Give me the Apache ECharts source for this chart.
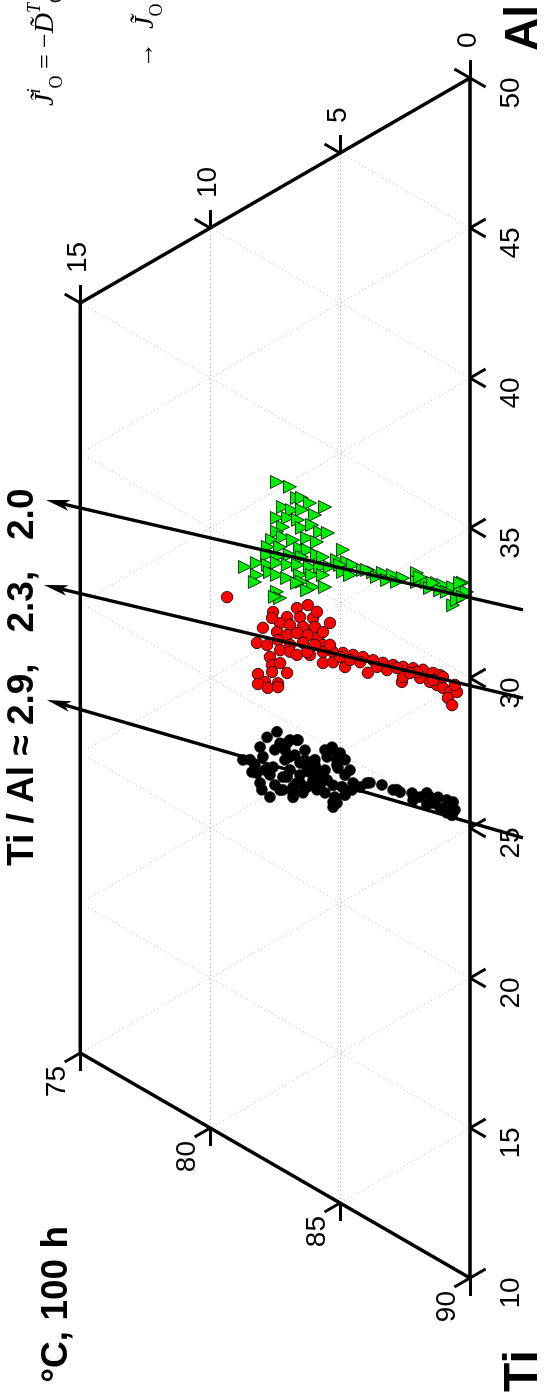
<!DOCTYPE html>
<html><head><meta charset="utf-8">
<script src="https://cdn.jsdelivr.net/npm/echarts@6/dist/echarts.min.js"></script>
<style>html,body{margin:0;padding:0;background:#fff}#c{width:547px;height:1398px}</style>
</head><body><div id="c"></div>
<script>
// ---- data: compositions [Al at%, O at%] (Ti = 100 - Al - O) ----
const blackPts = [[24.49,7.43],[24.60,6.66],[24.31,7.04],[24.96,5.27],[24.71,5.12],[24.62,5.50],[24.46,5.08],[24.36,4.81],[23.79,5.27],[23.91,4.93],[23.23,5.27],[23.43,5.20],[24.00,4.54],[24.25,4.23],[24.58,3.85],[24.74,3.39],[24.79,2.96],[24.85,2.69],[25.05,2.23],[25.07,1.92],[25.26,1.54],[25.41,1.23],[25.12,1.42],[25.54,0.65],[25.31,0.58],[25.23,0.89],[24.94,1.66],[24.83,2.19],[25.08,0.69],[25.09,1.15],[23.91,6.93],[23.90,6.54],[23.85,6.16],[23.94,5.77],[23.18,7.04],[23.17,6.66],[23.23,6.27],[23.33,5.89],[22.76,6.81],[22.67,7.20],[23.85,5.50],[23.58,6.04],[22.90,8.74],[22.67,8.39],[22.46,8.08],[22.27,8.01],[22.18,7.70],[23.66,8.08],[24.12,7.81],[24.17,7.31],[24.47,6.93],[24.62,6.62],[23.39,7.97],[23.24,7.58],[23.10,7.20],[22.96,6.81],[22.62,6.81],[22.96,6.43],[23.48,6.04],[23.99,5.89],[23.89,6.27],[22.61,7.31],[22.73,8.20],[25.04,5.31],[25.00,5.00],[24.54,5.12],[23.27,5.12],[23.06,5.27],[24.25,4.50],[24.52,3.96],[24.87,2.81],[25.34,1.66],[25.49,0.89],[25.27,0.65],[25.06,0.89],[23.85,7.51],[23.71,7.12],[24.42,6.35],[24.29,5.97],[24.14,5.58],[23.50,6.54],[22.92,7.70],[22.96,8.28],[23.38,5.58],[23.69,4.81],[24.04,7.12],[24.06,6.74],[24.09,6.35],[24.12,5.97],[23.47,6.93],[23.23,6.54],[23.55,5.77],[22.68,7.51],[22.99,7.89],[23.04,8.47],[24.81,5.58],[24.87,4.81],[24.62,4.62]];
const redPts = [[28.02,9.35],[28.41,7.58],[29.00,6.66],[29.31,6.24],[28.51,7.04],[28.76,6.54],[28.98,6.04],[28.17,7.31],[28.31,6.93],[28.49,6.43],[28.72,5.97],[29.14,5.39],[27.69,7.97],[27.82,7.43],[27.91,7.04],[28.17,6.66],[28.31,6.24],[28.40,5.85],[28.70,5.66],[27.07,8.20],[27.19,7.81],[27.57,7.39],[27.64,6.93],[27.96,6.43],[28.27,5.66],[27.27,7.31],[27.41,6.93],[27.44,6.66],[27.69,6.16],[28.04,5.66],[28.23,5.27],[28.39,4.89],[28.52,4.50],[28.64,4.12],[28.73,3.73],[28.83,3.35],[28.95,2.96],[29.08,2.58],[29.23,2.19],[29.37,1.81],[29.46,1.42],[29.52,1.15],[26.85,7.70],[26.62,7.62],[26.84,7.31],[26.05,8.16],[26.39,7.62],[26.65,7.04],[25.92,7.89],[25.72,8.16],[26.13,7.39],[25.78,7.78],[26.00,7.39],[27.67,5.66],[27.89,5.27],[27.96,4.81],[28.21,3.93],[28.67,3.19],[28.56,2.62],[28.74,2.58],[29.04,1.92],[29.10,1.54],[29.13,1.27],[29.15,1.04],[29.15,0.77],[29.28,0.50],[28.91,0.85],[28.75,0.69],[29.51,1.04],[29.18,2.04],[28.58,3.58],[28.93,2.81],[28.20,5.00],[28.12,5.97],[27.73,6.27],[28.41,5.39],[28.19,7.62],[29.26,5.89],[29.48,0.58],[29.22,1.42],[29.01,2.31],[28.41,4.23],[28.29,4.62]];
const greenPts = [[32.82,7.43],[32.91,6.93],[32.67,6.66],[32.77,6.47],[32.75,6.16],[32.91,5.58],[32.10,7.20],[32.17,6.85],[32.37,6.47],[32.45,5.97],[31.62,7.43],[31.83,7.01],[31.96,6.62],[31.43,7.20],[31.77,6.47],[32.06,6.08],[31.98,5.77],[32.10,5.47],[31.16,7.43],[30.79,7.62],[31.10,7.20],[31.19,6.81],[31.53,6.27],[31.59,5.89],[30.48,7.78],[30.71,7.31],[31.06,6.54],[31.15,6.24],[31.83,4.89],[30.19,7.81],[30.32,7.43],[30.64,6.93],[30.80,6.47],[31.16,5.89],[31.20,5.66],[31.37,5.12],[31.50,4.73],[29.37,8.66],[29.73,8.20],[29.88,7.78],[30.12,7.43],[30.27,7.01],[30.46,6.62],[30.62,6.16],[30.81,5.77],[31.01,5.39],[31.27,5.00],[31.52,4.50],[31.54,4.12],[31.66,3.73],[31.83,3.35],[29.33,8.20],[29.06,8.28],[29.68,7.70],[29.72,7.43],[29.81,7.04],[30.16,6.54],[30.39,6.08],[30.60,5.66],[29.97,6.47],[30.01,6.04],[30.24,5.58],[29.16,7.43],[29.01,7.31],[28.95,7.51],[31.95,2.96],[32.04,2.58],[32.48,2.04],[32.18,2.04],[32.37,1.66],[32.53,1.27],[32.58,1.04],[32.70,0.65],[33.04,0.27],[32.74,0.38],[32.81,0.12],[32.43,0.89],[32.23,1.54],[31.80,2.81],[31.67,3.19],[31.58,3.58],[29.79,6.27],[29.84,6.66],[31.09,4.89],[31.12,4.62],[32.10,0.65],[32.35,0.50],[32.57,0.27],[32.35,1.15],[31.62,3.96],[32.41,1.92],[32.46,1.42],[32.98,0.38]];
// Ti/Al guide arrows: [start [Al,O], tip [Al,O]]
const arrowLines = [
  [[25.69,-2.04],[21.13,16.28]],
  [[30.35,-2.04],[24.90,16.40]],
  [[33.29,-2.04],[27.77,16.32]]
];
const alTicks = [10,15,20,25,30,35,40,45,50];
const oTicks = [0,5,10,15];
const tiTicks = [90,85,80,75];
const titleText = 'Ti / Al \u2248 2.9,   2.3,   2.0';
const condText = '\u00b0C, 100 h';

// ---- ternary -> cartesian (units of at.%) ----
const S = Math.sqrt(3)/2;
const toXY = (al, o) => [o*S, al + o/2];
const seg = (a, b) => ({coords: [toXY(a[0],a[1]), toXY(b[0],b[1])]});

// dotted grid
const gridSegs = [];
[5,10].forEach(o => gridSegs.push(seg([10,o],[50-o,o])));
[15,20,25,30,35,40,45].forEach(a => gridSegs.push(seg([a,0],[a,Math.min(15,50-a)])));
[55,60,65,70,75,80,85].forEach(t => { const om = Math.min(15,90-t); gridSegs.push(seg([100-t,0],[100-t-om,om])); });

// frame
const frame = [{coords: [[10,0],[50,0],[35,15],[10,15],[10,0]].map(p => toXY(p[0],p[1]))}];

// tick marks
const T = 0.6;
const tickSegs = [];
alTicks.forEach(a => {
  if (a !== 10) tickSegs.push(seg([a,0],[a,-T]));
  if (a !== 50) tickSegs.push(seg([a,0],[a+T,-T]));
});
oTicks.forEach(o => {
  tickSegs.push(seg([50-o,o],[50-o+T,o]));
  tickSegs.push(seg([50-o,o],[50-o,o+T]));
});
tiTicks.forEach(t => {
  const o = 90 - t;
  tickSegs.push(seg([10,o],[10-T,o]));
  tickSegs.push(seg([10,o],[10-T,o+T]));
});

// tick labels
const labelItems = [];
alTicks.forEach(a => labelItems.push({p: toXY(a,0), text: String(a), dx: 41, dy: 15, align: 'center'}));
oTicks.forEach(o => labelItems.push({p: toXY(50-o,o), text: String(o), dx: -2, dy: -30, align: 'left'}));
tiTicks.forEach(t => labelItems.push({p: toXY(10,90-t), text: String(t), dx: -23, dy: 13, align: 'right'}));

const chart = echarts.init(document.getElementById('c'), null, {renderer: 'canvas'});
chart.setOption({
  animation: false,
  grid: {left: 0, right: 0, top: 0, bottom: 0},
  xAxis: {type: 'value', min: -77/30, max: 470/30, inverse: true, show: false},
  yAxis: {type: 'value', min: 6, max: 52.6, show: false},
  series: [
    {type: 'lines', coordinateSystem: 'cartesian2d', z: 1, silent: true, data: gridSegs,
     lineStyle: {color: '#b4b4b4', width: 1, type: [1, 3], opacity: 1}},
    {type: 'scatter', z: 2, data: blackPts.map(p => toXY(p[0],p[1])), symbol: 'circle', symbolSize: 11,
     itemStyle: {color: '#000', borderColor: '#000', borderWidth: 0.6, opacity: 1}},
    {type: 'scatter', z: 2, data: redPts.map(p => toXY(p[0],p[1])), symbol: 'circle', symbolSize: 11.5,
     itemStyle: {color: '#ff0000', borderColor: '#000', borderWidth: 0.8, opacity: 1}},
    {type: 'scatter', z: 2, data: greenPts.map(p => toXY(p[0],p[1])), symbol: 'triangle', symbolSize: 13, symbolRotate: -90,
     itemStyle: {color: '#00ee00', borderColor: '#000', borderWidth: 0.8, opacity: 1}},
    {type: 'lines', coordinateSystem: 'cartesian2d', polyline: true, z: 3, silent: true, data: frame,
     lineStyle: {color: '#000', width: 3.5, opacity: 1, join: 'miter'}},
    {type: 'lines', coordinateSystem: 'cartesian2d', z: 3, silent: true, data: tickSegs,
     lineStyle: {color: '#000', width: 3, opacity: 1}},
    {type: 'custom', z: 4, silent: true,
     data: arrowLines.map(a => [...toXY(a[0][0],a[0][1]), ...toXY(a[1][0],a[1][1])]),
     encode: {x: [0,2], y: [1,3]},
     renderItem: (params, api) => {
       const p0 = api.coord([api.value(0), api.value(1)]);
       const p1 = api.coord([api.value(2), api.value(3)]);
       const dx = p1[0]-p0[0], dy = p1[1]-p0[1], L = Math.hypot(dx,dy);
       const ux = dx/L, uy = dy/L, nx = -uy, ny = ux;
       const hl = 24, hw = 5.5, nt = 18;
       const b = [p1[0]-ux*hl, p1[1]-uy*hl];
       const n = [p1[0]-ux*nt, p1[1]-uy*nt];
       return {type: 'group', children: [
         {type: 'line', shape: {x1: p0[0], y1: p0[1], x2: n[0], y2: n[1]}, style: {stroke: '#000', lineWidth: 3.5}},
         {type: 'polygon', shape: {points: [p1, [b[0]+nx*hw, b[1]+ny*hw], n, [b[0]-nx*hw, b[1]-ny*hw]]}, style: {fill: '#000'}}
       ]};
     }},
    {type: 'custom', z: 5, silent: true,
     data: labelItems.map(it => it.p),
     renderItem: (params, api) => {
       const it = labelItems[params.dataIndex];
       const p = api.coord([api.value(0), api.value(1)]);
       return {type: 'text', x: p[0]+it.dx, y: p[1]+it.dy, rotation: Math.PI/2,
         style: {text: it.text, font: '28px "Liberation Sans", Arial, sans-serif', fill: '#000', align: it.align, verticalAlign: 'middle'}};
     }}
  ],
  graphic: [
    {type: 'text', x: 23, y: 866, rotation: Math.PI/2,
     style: {text: titleText, font: 'bold 37px "Liberation Sans", Arial, sans-serif', fill: '#000', align: 'left', verticalAlign: 'middle'}},
    {type: 'text', x: 57, y: 1226, rotation: Math.PI/2,
     style: {text: condText, font: 'bold 37px "Liberation Sans", Arial, sans-serif', fill: '#000', align: 'right', verticalAlign: 'middle'}},
    {type: 'text', x: 524, y: 1392, rotation: Math.PI/2,
     style: {text: 'Ti', font: 'bold 48px "Liberation Sans", Arial, sans-serif', fill: '#000', align: 'left', verticalAlign: 'middle'}},
    {type: 'text', x: 524, y: 51, rotation: Math.PI/2,
     style: {text: 'Al', font: 'bold 46px "Liberation Sans", Arial, sans-serif', fill: '#000', align: 'left', verticalAlign: 'middle'}},
    {type: 'text', x: 46, y: 106, rotation: Math.PI/2,
     style: {text: '{j|J\u0303}{s|i}{b|O}{n| = \u2212}{j|D\u0303}{s|T}{b|OO}',
       align: 'left', verticalAlign: 'middle',
       rich: {
         j: {font: 'italic 28px "Liberation Serif", serif', fill: '#000', lineHeight: 40, verticalAlign: 'middle'},
         n: {font: '26px "Liberation Serif", serif', fill: '#000', lineHeight: 40, verticalAlign: 'middle'},
         s: {font: 'italic 18px "Liberation Serif", serif', fill: '#000', lineHeight: 40, verticalAlign: 'top'},
         b: {font: '18px "Liberation Serif", serif', fill: '#000', lineHeight: 40, verticalAlign: 'bottom'}
       }}},
    {type: 'text', x: 146, y: 68, rotation: Math.PI/2,
     style: {text: '{n|\u2192  }{j|J\u0303}{b|O}',
       align: 'left', verticalAlign: 'middle',
       rich: {
         j: {font: 'italic 28px "Liberation Serif", serif', fill: '#000', lineHeight: 40, verticalAlign: 'middle'},
         n: {font: '26px "Liberation Serif", serif', fill: '#000', lineHeight: 40, verticalAlign: 'middle'},
         b: {font: '18px "Liberation Serif", serif', fill: '#000', lineHeight: 40, verticalAlign: 'bottom'}
       }}}
  ]
});
</script>
</body></html>
